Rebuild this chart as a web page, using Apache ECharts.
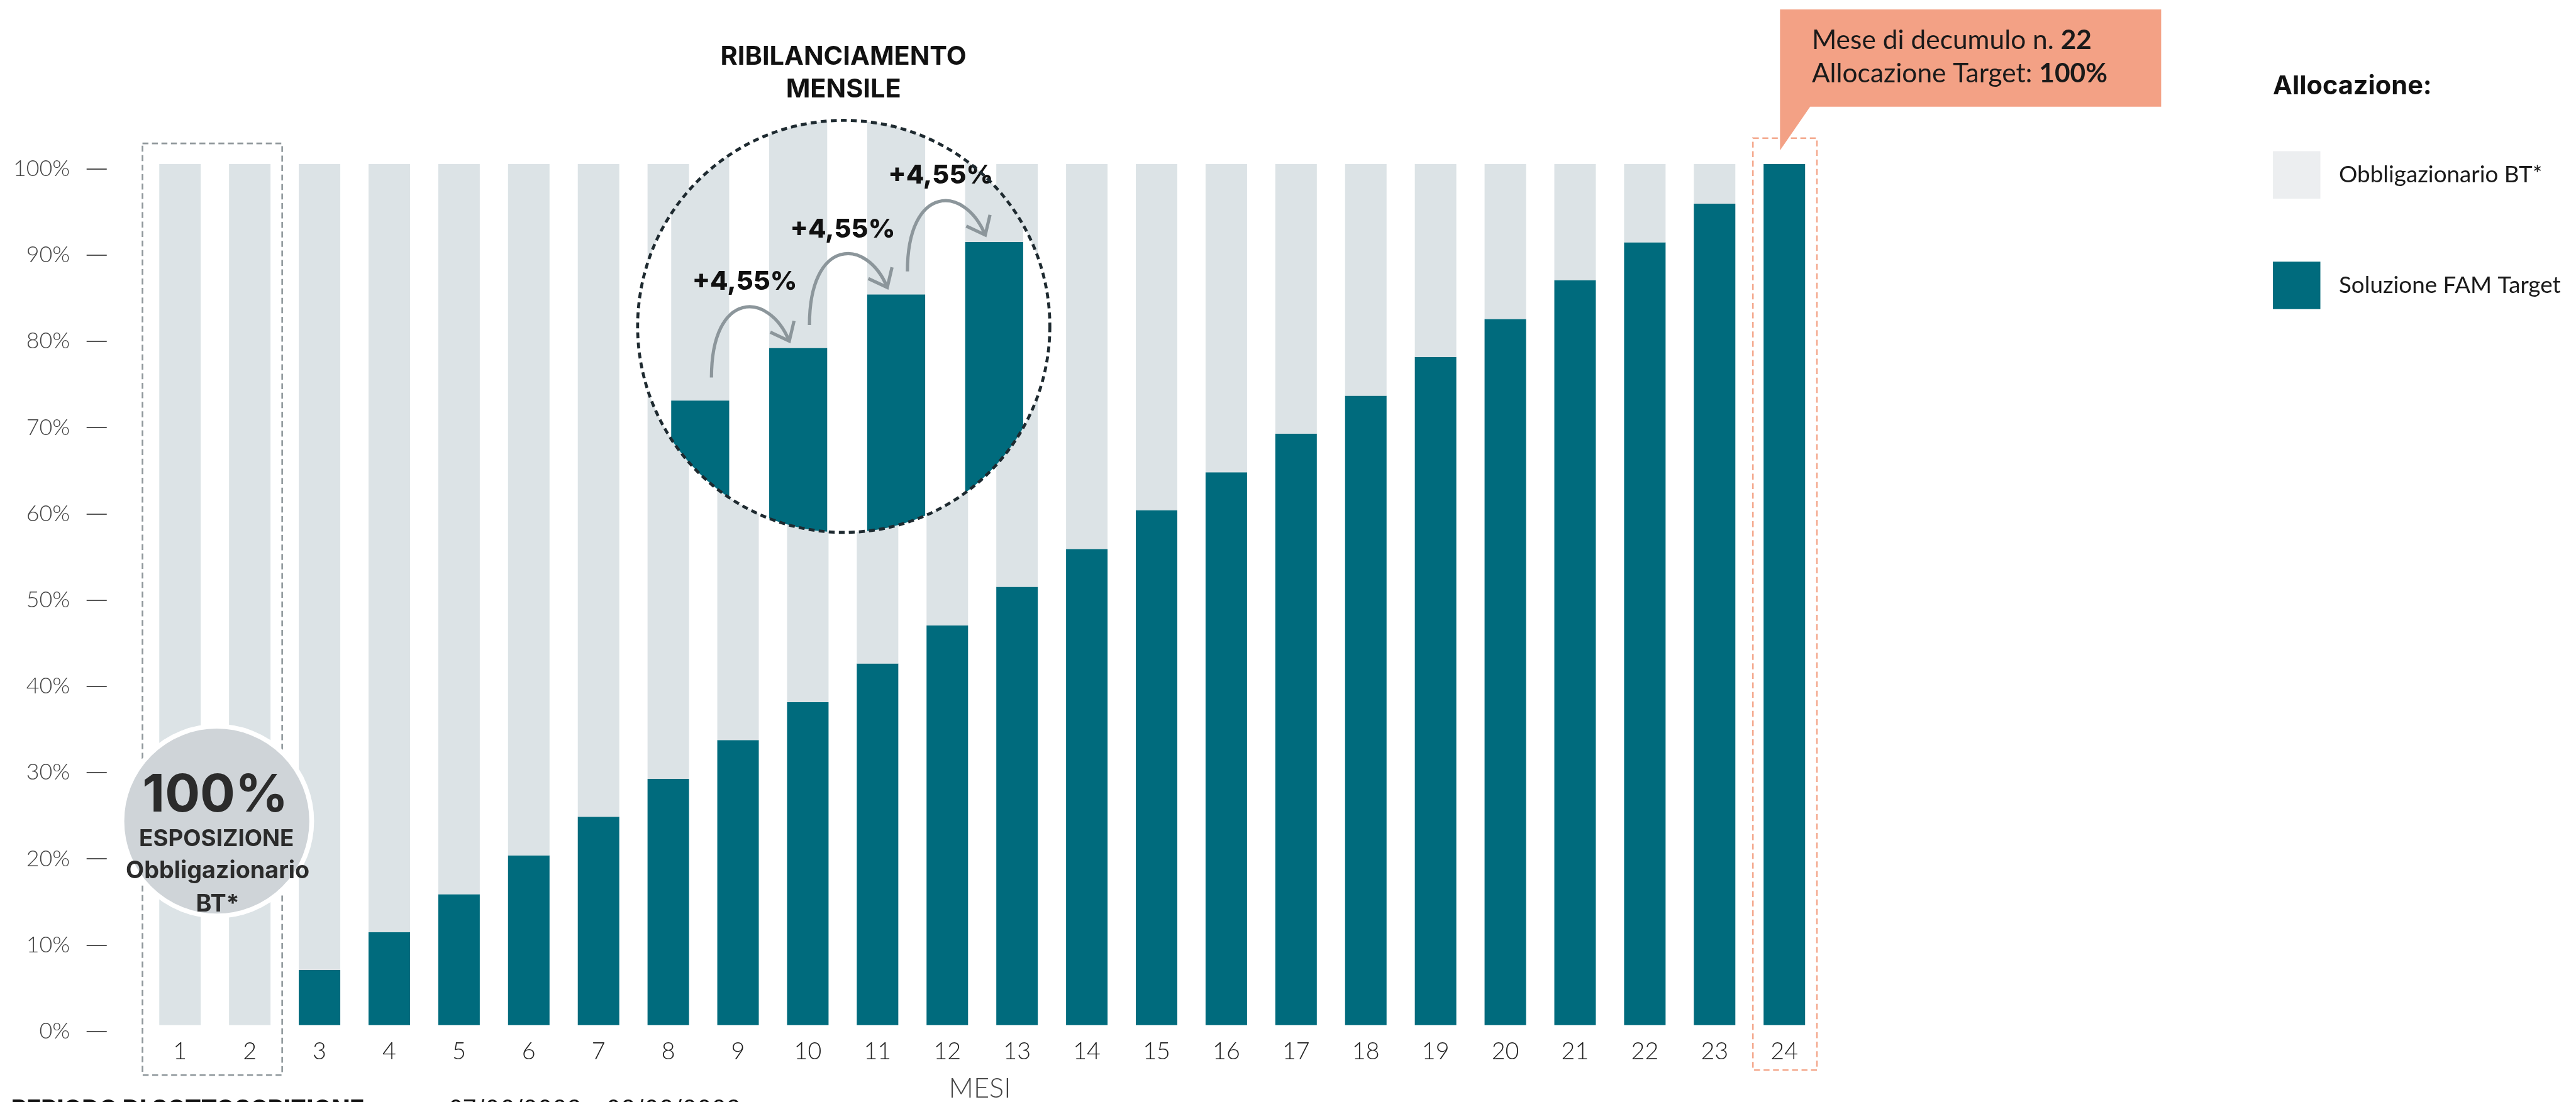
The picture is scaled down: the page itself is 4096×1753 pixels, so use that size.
<!DOCTYPE html>
<html>
<head>
<meta charset="utf-8">
<script src="https://cdn.jsdelivr.net/npm/echarts@6/dist/echarts.min.js"></script>
<style>
html, body { margin: 0; padding: 0; background: #fff; }
#chart { width: 4096px; height: 1753px; }
</style>
</head>
<body>
<div id="chart"></div>
<script>
// scala rispetto al disegno originale (4343 px di larghezza)
var S = 4096 / 4343;
function s(v) { return v * S; }

var TEAL = '#006B7D';
var GREY = '#DCE3E6';

// dati
var mesi = ['1', '2', '3', '4', '5', '6', '7', '8', '9', '10', '11', '12',
            '13', '14', '15', '16', '17', '18', '19', '20', '21', '22', '23', '24'];
var famTarget = [0, 0, 6.4, 10.8, 15.2, 19.7, 24.2, 28.6, 33.1, 37.5, 42.0, 46.4,
                 50.9, 55.3, 59.8, 64.2, 68.7, 73.1, 77.6, 82.0, 86.5, 90.9, 95.4, 100];
var obbligazionario = [100, 100, 93.6, 89.2, 84.8, 80.3, 75.8, 71.4, 66.9, 62.5, 58.0, 53.6,
                       49.1, 44.7, 40.2, 35.8, 31.3, 26.9, 22.4, 18.0, 13.5, 9.1, 4.6, 0];

// lente d'ingrandimento: mesi 9-12
var lenteMesi = ['9', '10', '11', '12'];
var lenteValori = [33.1, 37.5, 42.0, 46.4];
var lenteEtichette = ['+4,55%', '+4,55%', '+4,55%'];

var LENS = { cx: s(1422.5), cy: s(550.5), r: s(347.5) };

var FONT_LIGHT = 'Lato';
var FONT_BOLD = 'Inter';

function renderLens(params, api) {
    var i = params.dataIndex;
    var v = api.value(1);
    var top = api.coord([i, v]);
    var full = api.coord([i, 100]);
    var base = api.coord([i, 20]);
    var bw = api.size([1, 0])[0] * 0.592;
    var x = top[0] - bw / 2;

    var bars = [
        { type: 'rect', z2: 0, shape: { x: x, y: full[1], width: bw, height: top[1] - full[1] }, style: { fill: GREY } },
        { type: 'rect', z2: 0, shape: { x: x, y: top[1], width: bw, height: base[1] - top[1] + s(200) }, style: { fill: TEAL } }
    ];
    if (i === 0) {
        bars.unshift({ type: 'circle', z2: -1, shape: { cx: LENS.cx, cy: LENS.cy, r: LENS.r }, style: { fill: '#fff' } });
    }
    var children = [{
        type: 'group',
        clipPath: { type: 'circle', shape: { cx: LENS.cx, cy: LENS.cy, r: LENS.r } },
        children: bars
    }];

    if (i < lenteValori.length - 1) {
        var nt = api.coord([i + 1, lenteValori[i + 1]]);
        var x0 = top[0] + s(19), y0 = top[1] - s(39);
        var x1 = nt[0] - s(15), y1 = nt[1] - s(12);
        var arrowStyle = { stroke: '#8C969B', lineWidth: s(5.5), fill: 'none' };
        children.push({
            type: 'bezierCurve', z2: 8,
            shape: { x1: x0, y1: y0, cpx1: x0, cpy1: y0 - s(147), cpx2: x1 - s(35), cpy2: y1 - s(85), x2: x1, y2: y1 },
            style: arrowStyle
        });
        children.push({
            type: 'polyline', z2: 8,
            shape: { points: [[x1 - s(32), y1 - s(15)], [x1, y1], [x1 + s(8), y1 - s(34)]] },
            style: arrowStyle
        });
        children.push({
            type: 'text', z2: 9,
            x: top[0] + s(75), y: top[1] - s(200),
            style: {
                text: lenteEtichette[i], fill: '#111', font: '800 ' + s(44) + 'px ' + FONT_BOLD,
                align: 'center', verticalAlign: 'middle'
            }
        });
    }
    return { type: 'group', children: children };
}

var chart = echarts.init(document.getElementById('chart'));

var gridLeft = s(244.7);
var gridWidth = s(2822.4);

var option = {
    animation: false,
    backgroundColor: '#fff',
    grid: [
        { left: gridLeft, top: s(276.7), width: gridWidth, height: s(1452.3) },
        { left: gridLeft, top: s(284.7), width: gridWidth, height: s(1454.7) },
        { left: s(1097.9), top: s(134.9), width: s(660.8), height: s(804.2) }
    ],
    xAxis: [
        {
            gridIndex: 0, type: 'category', data: mesi,
            axisLine: { show: false }, axisTick: { show: false },
            axisLabel: { margin: s(25), color: '#222', fontFamily: FONT_LIGHT, fontWeight: 300, fontSize: s(40) }
        },
        { gridIndex: 1, type: 'category', data: mesi, show: false },
        { gridIndex: 2, type: 'category', data: lenteMesi, show: false }
    ],
    yAxis: [
        { gridIndex: 0, type: 'value', min: 0, max: 100, show: false, splitLine: { show: false } },
        {
            gridIndex: 1, type: 'value', min: 0, max: 100, interval: 10, offset: s(64.7),
            splitLine: { show: false },
            axisLine: { show: false },
            axisTick: { show: true, length: s(34), lineStyle: { color: '#555', width: s(2) } },
            axisLabel: {
                margin: s(62), color: '#444', fontFamily: FONT_LIGHT, fontWeight: 300, fontSize: s(38),
                formatter: '{value}%'
            }
        },
        { gridIndex: 2, type: 'value', min: 20, max: 60, show: false, splitLine: { show: false } }
    ],
    legend: {
        orient: 'vertical', left: s(3832), top: s(255), padding: 0,
        itemWidth: s(80), itemHeight: s(80), itemGap: s(106.3),
        selectedMode: false, icon: 'rect',
        textStyle: { color: '#1a1a1a', fontFamily: FONT_LIGHT, fontSize: s(39), padding: [0, 0, 0, s(26)] },
        data: [
            { name: 'Obbligazionario BT*', itemStyle: { color: '#ECEEF0' } },
            { name: 'Soluzione FAM Target', itemStyle: { color: TEAL } }
        ]
    },
    series: [
        {
            name: 'Soluzione FAM Target', type: 'bar', stack: 'alloc',
            xAxisIndex: 0, yAxisIndex: 0, barWidth: '59.5%',
            itemStyle: { color: TEAL }, data: famTarget
        },
        {
            name: 'Obbligazionario BT*', type: 'bar', stack: 'alloc',
            xAxisIndex: 0, yAxisIndex: 0, barWidth: '59.5%',
            itemStyle: { color: GREY }, data: obbligazionario
        },
        {
            type: 'custom', xAxisIndex: 2, yAxisIndex: 2, z: 5, clip: false,
            renderItem: renderLens,
            data: lenteMesi.map(function (m, i) { return [i, lenteValori[i]]; })
        }
    ]
};

chart.setOption(option);

// decorazioni
var c1 = chart.convertToPixel({ xAxisIndex: 0 }, '1');
var c2 = chart.convertToPixel({ xAxisIndex: 0 }, '2');
var c24 = chart.convertToPixel({ xAxisIndex: 0 }, '24');

function txt(x, y, text, size, weight, family, color, align) {
    return {
        type: 'text', x: s(x), y: s(y), z: 30,
        style: {
            text: text, fill: color || '#111', font: weight + ' ' + s(size) + 'px ' + family,
            align: align || 'center', verticalAlign: 'middle'
        }
    };
}

var graphics = [
    {
        type: 'rect', z: 1,
        shape: { x: c1 - s(63.3), y: s(241.9), width: (c2 + s(54.6)) - (c1 - s(63.3)), height: s(1813.3 - 241.9) },
        style: { fill: 'none', stroke: '#8F979B', lineWidth: s(2.7), lineDash: [s(10), s(6)] }
    },
    {
        type: 'rect', z: 1,
        shape: { x: c24 - s(53), y: s(233), width: s(108), height: s(1805 - 233) },
        style: { fill: 'none', stroke: '#F4A98E', lineWidth: s(2.7), lineDash: [s(10), s(6)] }
    },
    {
        type: 'polygon', z: 10,
        shape: { points: [[s(3001), s(16)], [s(3643.6), s(16)], [s(3643.6), s(180)], [s(3051.8), s(180)], [s(3001), s(253.6)]] },
        style: { fill: '#F3A185' }
    },
    {
        type: 'text', x: s(3054.6), y: s(68), z: 30,
        style: {
            text: '{n|Mese di decumulo n. }{b|22}', verticalAlign: 'middle',
            rich: {
                n: { font: '400 ' + s(45) + 'px ' + FONT_LIGHT, fill: '#1a1a1a' },
                b: { font: '700 ' + s(45) + 'px ' + FONT_LIGHT, fill: '#1a1a1a' }
            }
        }
    },
    {
        type: 'text', x: s(3054.6), y: s(124), z: 30,
        style: {
            text: '{n|Allocazione Target: }{b|100%}', verticalAlign: 'middle',
            rich: {
                n: { font: '400 ' + s(45) + 'px ' + FONT_LIGHT, fill: '#1a1a1a' },
                b: { font: '700 ' + s(45) + 'px ' + FONT_LIGHT, fill: '#1a1a1a' }
            }
        }
    },
    txt(1422, 96, 'RIBILANCIAMENTO', 44, 700, FONT_BOLD),
    txt(1422, 151, 'MENSILE', 44, 700, FONT_BOLD),
    txt(3832, 145.5, 'Allocazione:', 44, 700, FONT_BOLD, '#111', 'left'),
    {
        type: 'circle', z: 20,
        shape: { cx: s(365.5), cy: s(1385), r: s(160) },
        style: { fill: '#CFD4D8', stroke: '#fff', lineWidth: s(8) }
    },
    txt(363, 1342.8, '100%', 88, 700, FONT_BOLD, '#2B2B2B'),
    txt(365, 1415.4, 'ESPOSIZIONE', 39, 700, FONT_BOLD, '#2B2B2B'),
    txt(367, 1469, 'Obbligazionario', 40, 700, FONT_BOLD, '#2B2B2B'),
    txt(367, 1525, 'BT*', 40, 700, FONT_BOLD, '#2B2B2B'),
    {
        type: 'circle', z: 25,
        shape: { cx: LENS.cx, cy: LENS.cy, r: LENS.r },
        style: { fill: 'none', stroke: '#1E2A30', lineWidth: s(5), lineDash: [s(10), s(7)] }
    },
    txt(1652, 1836, 'MESI', 46, 300, FONT_LIGHT, '#444'),
    {
        type: 'text', x: s(19), y: s(1852), z: 30,
        style: { text: 'PERIODO DI SOTTOSCRIZIONE:', fill: '#111', font: '800 ' + s(40) + 'px ' + FONT_BOLD, verticalAlign: 'top' }
    },
    {
        type: 'text', x: s(756), y: s(1852), z: 30,
        style: { text: '07/06/2023 - 08/08/2023', fill: '#111', font: '400 ' + s(40) + 'px ' + FONT_BOLD, verticalAlign: 'top' }
    }
];

chart.setOption({ graphic: graphics });
</script>
</body>
</html>
